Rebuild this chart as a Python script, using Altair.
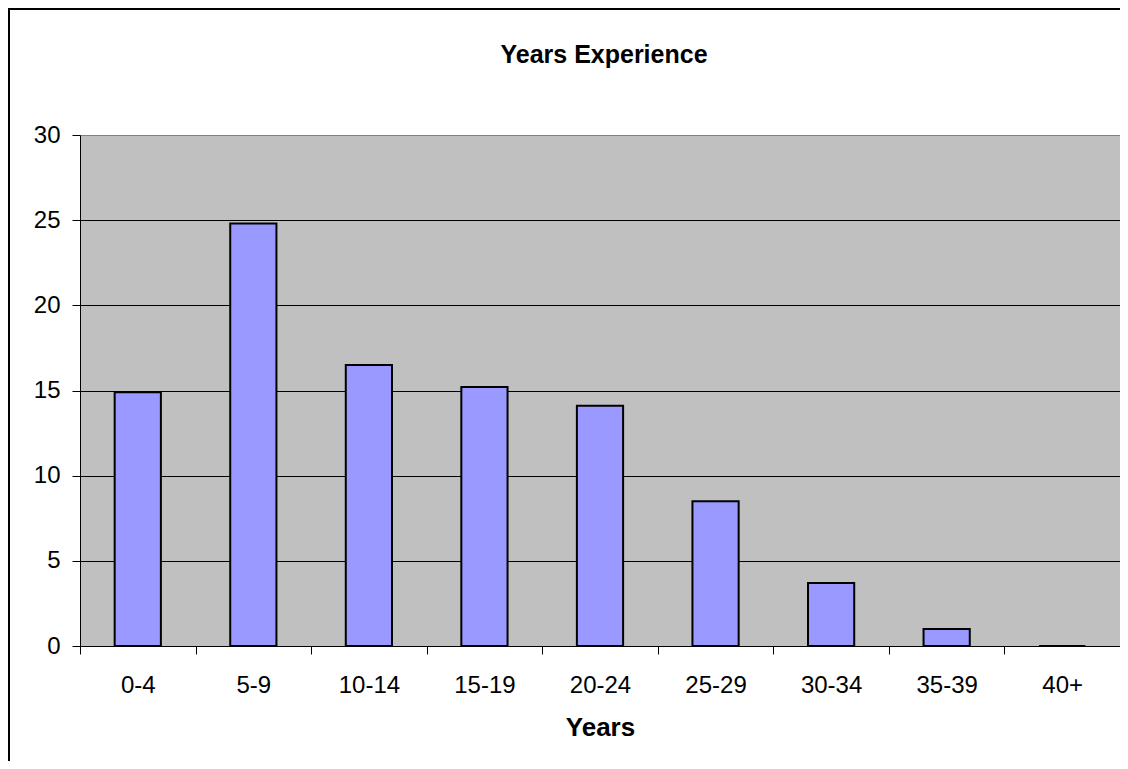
import altair as alt
import pandas as pd

categories = ["0-4", "5-9", "10-14", "15-19", "20-24", "25-29", "30-34", "35-39", "40+"]
values = [14.9, 24.8, 16.5, 15.2, 14.1, 8.5, 3.7, 1.0, 0.0]
y_ticks = [0, 5, 10, 15, 20, 25, 30]
chart_title = "Years Experience"

FONT = "Liberation Sans"
W, H = 1040, 511

df = pd.DataFrame({"Years": categories, "Value": values})
one = pd.DataFrame({"title": [chart_title]})

bars = alt.Chart(df).mark_bar(
    color="#9999FF", stroke="black", strokeWidth=2,
    width=alt.RelativeBandSize(0.4)
).encode(
    x=alt.X("Years:N", sort=categories,
            scale=alt.Scale(paddingInner=0, paddingOuter=0),
            axis=alt.Axis(title="Years", titleFont=FONT, titleFontSize=26,
                          titleFontWeight="bold", titleColor="black",
                          titleY=89, titleBaseline="alphabetic",
                          labelFont=FONT, labelFontSize=24, labelColor="black",
                          labelAngle=0, labelBaseline="alphabetic", labelPadding=38,
                          tickBand="extent", tickSize=8, tickColor="black",
                          domainColor="black", grid=False)),
    y=alt.Y("Value:Q",
            scale=alt.Scale(domain=[0, 30], nice=False),
            axis=alt.Axis(title=None, values=y_ticks,
                          labelFont=FONT, labelFontSize=24, labelColor="black",
                          labelPadding=12, labelBaseline="middle",
                          tickSize=8, tickColor="black", domainColor="black",
                          grid=True,
                          gridColor={"condition": {"test": "datum.value == 30", "value": "#808080"},
                                     "value": "black"},
                          gridOpacity=1)),
)

title = alt.Chart(one).mark_text(
    font=FONT, fontSize=25, fontWeight="bold", color="black",
    align="center", baseline="alphabetic"
).encode(text="title:N", x=alt.value(524), y=alt.value(-72))

border_v = alt.Chart(one).mark_rule(color="black", strokeWidth=2).encode(
    x=alt.value(-71), y=alt.value(-127), y2=alt.value(640))
border_h = alt.Chart(one).mark_rule(color="black", strokeWidth=2).encode(
    x=alt.value(-72), x2=alt.value(1045), y=alt.value(-126))

chart = alt.layer(bars, title, border_v, border_h).properties(
    width=W, height=H,
    autosize=alt.AutoSizeParams(type="none"),
    padding={"left": 72, "top": 127, "right": 0, "bottom": 115},
).configure_view(fill="#C0C0C0", stroke="#808080", strokeWidth=1)

chart.save("out.html", embed_options={"renderer": "svg", "actions": False})
